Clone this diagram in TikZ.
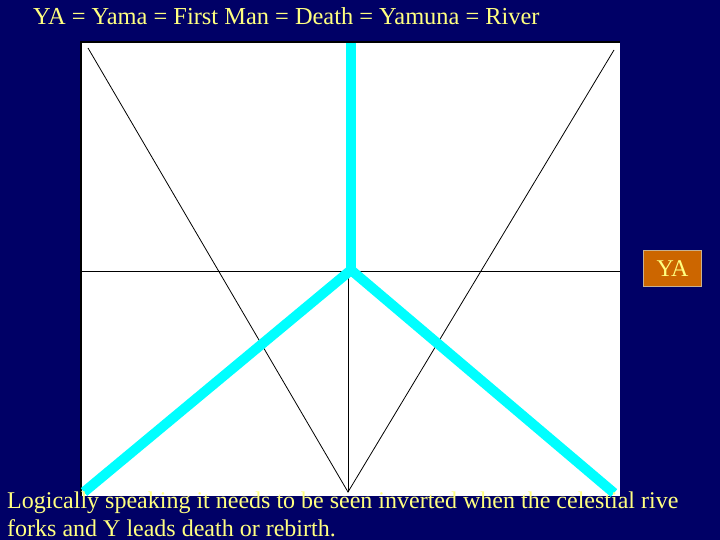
\documentclass[tikz,border=0pt]{standalone}
\usepackage{fontspec}
\setmainfont{Liberation Serif}
\definecolor{navy}{HTML}{000066}
\definecolor{txtyellow}{HTML}{FFFF80}
\definecolor{yaorange}{HTML}{CC6600}
\definecolor{yaborder}{HTML}{C8B090}
\definecolor{river}{HTML}{00FFFF}
\tikzset{
  label text/.style={text=txtyellow, inner sep=0pt, font=\fontsize{24}{28}\selectfont},
  thin line/.style={draw=black, line width=0.8pt},
  river line/.style={draw=river, line width=10pt, line cap=butt, line join=round},
  ya box/.style={fill=yaorange, draw=yaborder, line width=1pt, minimum width=58pt, minimum height=36pt, inner sep=0pt, text=txtyellow, font=\fontsize{24}{28}\selectfont},
}
\begin{document}
\begin{tikzpicture}[x=1pt, y=-1pt]
\useasboundingbox (0,0) rectangle (720,540);
\fill[navy] (0,0) rectangle (720,540);
% white panel
\fill[black] (80,41) rectangle (620,496);
\fill[white] (82,43) rectangle (620,496);
% coordinates
\coordinate (tl) at (88,48);
\coordinate (tr) at (614,50);
\coordinate (bot) at (348,492);
\coordinate (hl) at (82,271);
\coordinate (hr) at (620,271);
\coordinate (mid) at (348,271);
\coordinate (rtop) at (351,43);
\coordinate (rjoin) at (351,270);
\coordinate (rbl) at (84,492);
\coordinate (rbr) at (614,493);
% thin lines
\draw[thin line] (tl) -- (bot) -- (tr);
\draw[thin line] (hl) -- (hr);
\draw[thin line] (mid) -- (bot);
% river Y
\draw[river line] (rtop) -- (rjoin);
\draw[river line] (rbl) -- (rjoin) -- (rbr);
% YA box
\node[ya box] (ya) at (672.5,268.5) {YA};
% texts
\node[label text, anchor=base west, font=\fontsize{24.4}{28}\selectfont] (title) at (33,25) {YA = Yama = First Man = Death = Yamuna = River};
\node[label text, anchor=base west] (note1) at (7,508) {Logically speaking it needs to be seen inverted when the celestial rive};
\node[label text, anchor=base west] (note2) at (7,536) {forks and Y leads death or rebirth.};
\end{tikzpicture}
\end{document}
